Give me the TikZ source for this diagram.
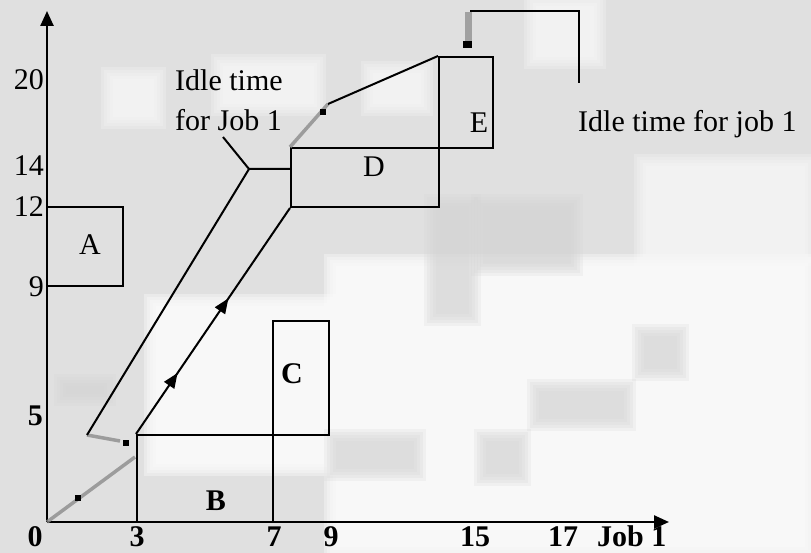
\documentclass[tikz,border=0pt]{standalone}
\usepackage{fontspec}
\setmainfont{Liberation Serif}
\usetikzlibrary{arrows.meta,decorations.markings}
\definecolor{bgbase}{HTML}{E0E0E0}
\definecolor{bglight}{HTML}{FCFCFC}
\definecolor{bgdark}{HTML}{D4D4D4}
\definecolor{ghostc}{HTML}{8C8C8C}
\tikzset{
  lbl/.style={inner sep=0pt, font=\fontsize{30}{34}\selectfont},
  blbl/.style={inner sep=0pt, font=\fontsize{30}{34}\selectfont\bfseries},
  box/.style={draw, line width=2pt, inner sep=0pt},
  seg/.style={line width=2pt},
  axis/.style={line width=2.5pt, -{Triangle[length=15pt,width=13pt]}},
  ghost/.style={ghostc, line width=3.5pt, opacity=0.8},
  dot/.style={fill=black, minimum size=6pt, inner sep=0pt},
  midarrows/.style={postaction={decorate}, decoration={markings,
     mark=at position 0.27 with {\arrow{Triangle[length=15pt,width=12pt]}},
     mark=at position 0.60 with {\arrow{Triangle[length=15pt,width=12pt]}}}}
}
% soft (blurred-looking) background patch
\newcommand{\softpatch}[5]{%
  \foreach \k in {-6,-3,0,3,6} {
    \fill[#1, opacity=0.22] (#2-\k,#3-\k) rectangle (#4+\k,#5+\k);
  }}
\begin{document}
\begin{tikzpicture}[x=1pt,y=-1pt]
\useasboundingbox (0,0) rectangle (811,553);
% background
\fill[bgbase] (0,0) rectangle (811,553);
\softpatch{bglight}{330}{260}{811}{553}
\softpatch{bglight}{330}{260}{811}{553}
\softpatch{bglight}{150}{300}{330}{470}
\softpatch{bglight}{150}{300}{330}{470}
\softpatch{bglight}{107}{73}{160}{123}
\softpatch{bglight}{217}{60}{320}{110}
\softpatch{bglight}{530}{0}{600}{63}
\softpatch{bglight}{367}{67}{427}{110}
\softpatch{bglight}{640}{160}{811}{260}
\softpatch{bgdark}{430}{200}{475}{320}
\softpatch{bgdark}{477}{200}{577}{270}
\softpatch{bgdark}{638}{330}{683}{375}
\softpatch{bgdark}{533}{385}{630}{425}
\softpatch{bgdark}{330}{435}{420}{475}
\softpatch{bgdark}{480}{435}{525}{480}
\softpatch{bgdark}{60}{380}{110}{400}

% axes
\coordinate (O) at (47,522);
\coordinate (Xend) at (669,522);
\coordinate (Yend) at (47,11);
\draw[axis] (O) -- (Xend);
\draw[axis] (O) -- (Yend);

% boxes
\node[box, minimum width=76pt, minimum height=79pt] (A) at (85,246.5) {};
\node[box, minimum width=136pt, minimum height=87pt] (B) at (205,478.5) {};
\node[box, minimum width=56pt, minimum height=114pt] (C) at (301,378) {};
\node[box, minimum width=148pt, minimum height=59pt] (D) at (365,177.5) {};
\node[box, minimum width=54pt, minimum height=91pt] (E) at (466,102.5) {};

% box labels
\node[lbl, anchor=base] (Alab) at (90,255) {A};
\node[blbl, anchor=base] (Blab) at (216,510) {B};
\node[blbl, anchor=base] (Clab) at (292,383) {C};
\node[lbl, anchor=base] (Dlab) at (374,177) {D};
\node[lbl, anchor=base] (Elab) at (479,133) {E};

% path coordinates
\coordinate (p1) at (87,435);
\coordinate (p2) at (249,169);
\coordinate (p3) at (291,169);
\coordinate (q1) at (328,104);
\coordinate (t1) at (470,11);
\coordinate (t2) at (579,11);
\coordinate (t3) at (579,83);
\coordinate (L1) at (223,137);

% ghost (grey, pixelated) parts
\draw[ghost] (O) -- (135,457);
\draw[ghost] (p1) -- (120,441);
\draw[ghost] (D.north west) -- (q1);
\draw[ghostc, line width=7pt, opacity=0.75] (468,12) -- (468,42);
\node[dot] (d1) at (78,498) {};
\node[dot] (d2) at (126,443) {};
\node[dot] (d3) at (323,112) {};
\node[dot, minimum width=9pt, minimum height=7pt] (d4) at (467,45) {};

% black paths
\draw[seg] (p1) -- (p2) -- (p3);
\draw[seg, midarrows] (B.north west) -- (D.south west);
\draw[seg] (q1) -- (E.north west);
\draw[seg] (t1) -- (t2) -- (t3);
\draw[seg] (L1) -- (p2);

% tick labels
\node[lbl, anchor=base east] (y20) at (44,90) {20};
\node[lbl, anchor=base east] (y14) at (44,176) {14};
\node[lbl, anchor=base east] (y12) at (44,217) {12};
\node[lbl, anchor=base east] (y9) at (44,297) {9};
\node[blbl, anchor=base east] (y5) at (43,425) {5};
\node[blbl, anchor=base] (x0) at (35,546) {0};
\node[blbl, anchor=base] (x3) at (137,546) {3};
\node[blbl, anchor=base] (x7) at (274,546) {7};
\node[blbl, anchor=base] (x9) at (331,546) {9};
\node[blbl, anchor=base] (x15) at (475,546) {15};
\node[blbl, anchor=base] (x17) at (563,546) {17};
\node[blbl, anchor=base west] (xjob) at (597,546) {Job 1};

% annotations
\node[lbl, anchor=north west, align=left, font=\fontsize{30}{40}\selectfont] (idle1) at (175,69.5) {Idle time\\for Job 1};
\node[lbl, anchor=base west] (idle2) at (578,132) {Idle time for job 1};
\end{tikzpicture}
\end{document}
